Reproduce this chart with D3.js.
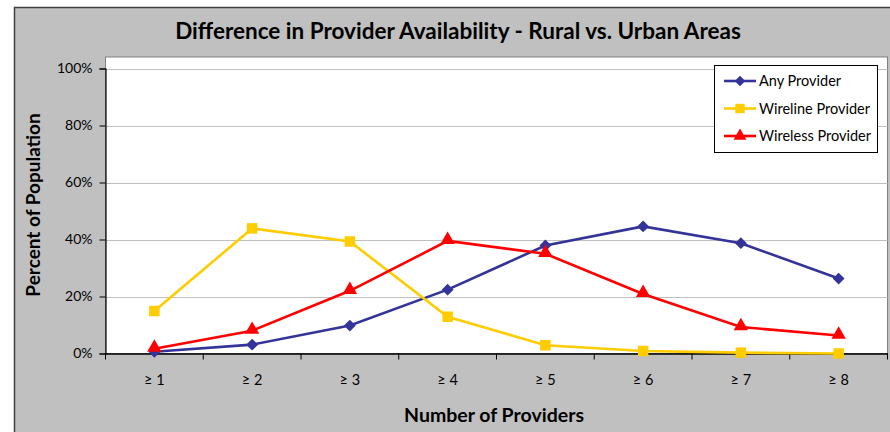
<!DOCTYPE html>
<html>
<head>
<meta charset="utf-8">
<script src="https://cdn.jsdelivr.net/npm/d3@7"></script>
<style>
  body { margin: 0; background: #fff; }
  svg { display: block; font-family: Lato, "Open Sans", sans-serif; }
</style>
</head>
<body>
<div id="chart"></div>
<script>
"use strict";

var categories = ["\u2265 1", "\u2265 2", "\u2265 3", "\u2265 4", "\u2265 5", "\u2265 6", "\u2265 7", "\u2265 8"];
var anyProvider = [0.6, 3.1, 9.8, 22.4, 37.9, 44.6, 38.7, 26.3];
var wirelineProvider = [14.9, 43.9, 39.3, 12.9, 2.9, 0.9, 0.3, 0.0];
var wirelessProvider = [1.7, 8.0, 22.0, 39.5, 35.0, 20.9, 9.3, 6.3];
var yTicks = [0, 20, 40, 60, 80, 100];

var series = [
	{ name: "Any Provider", values: anyProvider, color: "#333399", symbol: d3.symbolSquare, size: 70, rotate: 45 },
	{ name: "Wireline Provider", values: wirelineProvider, color: "#FFCC00", symbol: d3.symbolSquare, size: 110, rotate: 0 },
	{ name: "Wireless Provider", values: wirelessProvider, color: "#FF0000", symbol: d3.symbolTriangle, size: 90, rotate: 0 }
];

var width = 890, height = 432;
var plot = { left: 105.5, top: 57, right: 887.5, bottom: 353.5 };

var svg = d3.select("#chart").append("svg")
	.attr("width", width)
	.attr("height", height);

// outer chart area
svg.append("rect")
	.attr("x", 14.5).attr("y", 7.5)
	.attr("width", 900).attr("height", 450)
	.attr("fill", "#c0c0c0")
	.attr("stroke", "#404040")
	.attr("stroke-width", 1.5);

svg.append("rect")
	.attr("x", plot.left).attr("y", plot.top)
	.attr("width", plot.right - plot.left).attr("height", plot.bottom - plot.top)
	.attr("fill", "#fff")
	.attr("stroke", "#808080")
	.attr("stroke-width", 1);

var x = d3.scaleBand().domain(categories).range([plot.left, plot.right]);
var y = d3.scaleLinear().domain([0, 100]).range([plot.bottom, 68.5]);

// gridlines
svg.append("g").selectAll("line")
	.data(yTicks.filter(function(d) { return d > 0; }))
	.enter().append("line")
	.attr("x1", plot.left).attr("x2", plot.right)
	.attr("y1", function(d) { return Math.round(y(d)) + 0.5; })
	.attr("y2", function(d) { return Math.round(y(d)) + 0.5; })
	.attr("stroke", "#c0c0c0")
	.attr("stroke-width", 1);

// y axis
var yAxis = svg.append("g")
	.attr("transform", "translate(" + plot.left + ",0)")
	.call(d3.axisLeft(y).tickValues(yTicks).tickSize(6).tickPadding(7)
		.tickFormat(function(d) { return d + "%"; }));
yAxis.select(".domain").attr("stroke", "#000").attr("stroke-width", 1.2);
yAxis.selectAll(".tick line").attr("stroke", "#000");
yAxis.selectAll("text").attr("font-size", 14).attr("fill", "#000")
	.style("font-family", "Lato, sans-serif");

// x axis
var xAxis = svg.append("g")
	.attr("transform", "translate(0," + plot.bottom + ")")
	.call(d3.axisBottom(x).tickSize(0).tickPadding(21));
xAxis.select(".domain").attr("stroke", "#000").attr("stroke-width", 1.5);
xAxis.selectAll("text").attr("font-size", 14.5).attr("fill", "#000")
	.style("font-family", "Lato, sans-serif");
var bounds = categories.map(function(c) { return x(c); }).concat([plot.right]);
xAxis.selectAll(".bound").data(bounds).enter().append("line")
	.attr("class", "bound")
	.attr("x1", function(d) { return d; }).attr("x2", function(d) { return d; })
	.attr("y1", 0).attr("y2", 6)
	.attr("stroke", "#000");

// series
var line = d3.line()
	.x(function(d, i) { return x(categories[i]) + x.bandwidth() / 2; })
	.y(function(d) { return y(d); });

series.forEach(function(s) {
	svg.append("path")
		.datum(s.values)
		.attr("d", line)
		.attr("fill", "none")
		.attr("stroke", s.color)
		.attr("stroke-width", 2.6);
	svg.append("g").selectAll("path")
		.data(s.values)
		.enter().append("path")
		.attr("d", d3.symbol().type(s.symbol).size(s.size))
		.attr("transform", function(d, i) {
			var yy = y(d);
			if (s.symbol === d3.symbolTriangle) yy -= 1;
			return "translate(" + (x(categories[i]) + x.bandwidth() / 2) + "," + yy + ") rotate(" + s.rotate + ")";
		})
		.attr("fill", s.color);
});

// legend
var legend = svg.append("g");
legend.append("rect")
	.attr("x", 714.5).attr("y", 65.5)
	.attr("width", 163).attr("height", 87)
	.attr("fill", "#fff")
	.attr("stroke", "#000");
series.forEach(function(s, i) {
	var ly = 81 + i * 27.5;
	legend.append("line")
		.attr("x1", 724).attr("x2", 756)
		.attr("y1", ly).attr("y2", ly)
		.attr("stroke", s.color).attr("stroke-width", 2.6);
	legend.append("path")
		.attr("d", d3.symbol().type(s.symbol).size(s.size * 0.8))
		.attr("transform", "translate(740," + ly + ") rotate(" + s.rotate + ")")
		.attr("fill", s.color);
	legend.append("text")
		.attr("x", 759).attr("y", ly + 5)
		.attr("font-size", 14.5)
		.text(s.name);
});

// titles
svg.append("text")
	.attr("x", 458).attr("y", 39)
	.attr("text-anchor", "middle")
	.attr("font-size", 22.5)
	.attr("font-weight", "bold")
	.text("Difference in Provider Availability - Rural vs. Urban Areas");

svg.append("text")
	.attr("x", 494).attr("y", 422)
	.attr("text-anchor", "middle")
	.attr("font-size", 19.5)
	.attr("font-weight", "bold")
	.text("Number of Providers");

svg.append("text")
	.attr("transform", "translate(40,205) rotate(-90)")
	.attr("text-anchor", "middle")
	.attr("font-size", 19)
	.attr("font-weight", "bold")
	.text("Percent of Population");
</script>
</body>
</html>
